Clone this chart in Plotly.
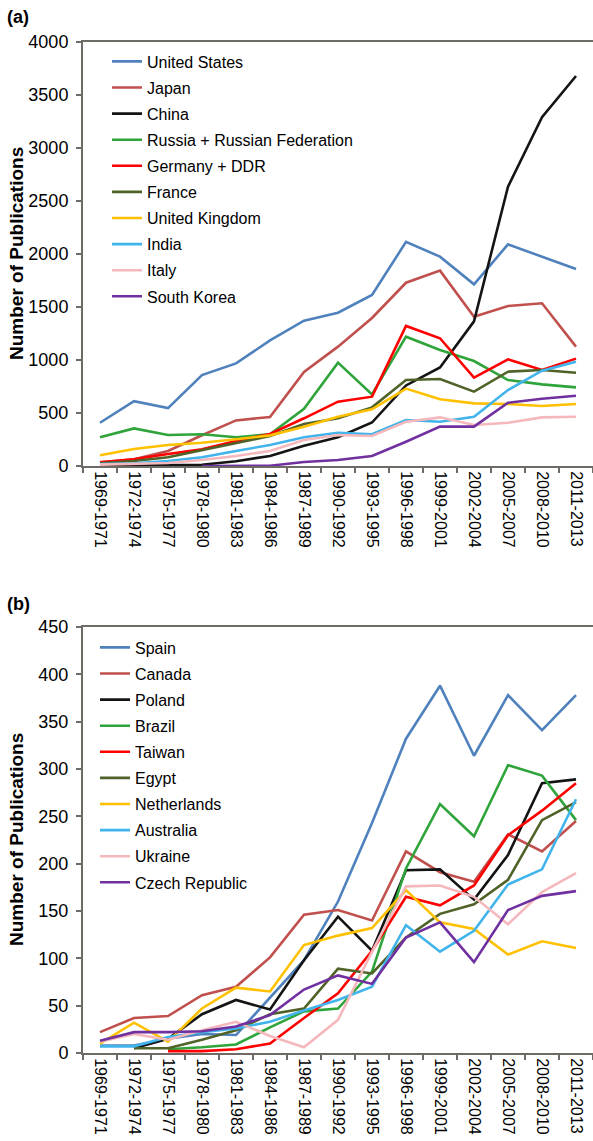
import plotly.graph_objects as go

# ---- data -------------------------------------------------------------
periods = ["1969-1971", "1972-1974", "1975-1977", "1978-1980", "1981-1983",
           "1984-1986", "1987-1989", "1990-1992", "1993-1995", "1996-1998",
           "1999-2001", "2002-2004", "2005-2007", "2008-2010", "2011-2013"]

# panel (a)
countries_a = ["United States", "Japan", "China", "Russia + Russian Federation",
               "Germany + DDR", "France", "United Kingdom", "India", "Italy",
               "South Korea"]
united_states = [408, 612, 546, 858, 968, 1185, 1371, 1446, 1613, 2114, 1975, 1714, 2091, 1978, 1858]
japan = [35, 63, 142, 290, 430, 463, 887, 1126, 1396, 1729, 1843, 1409, 1509, 1535, 1126]
china = [3, 5, 8, 12, 45, 95, 190, 272, 410, 760, 930, 1365, 2635, 3290, 3679]
russia = [271, 355, 292, 299, 271, 300, 540, 975, 676, 1220, 1094, 990, 811, 770, 742]
germany = [35, 63, 113, 157, 236, 302, 450, 607, 654, 1321, 1205, 833, 1006, 906, 1013]
france = [25, 47, 82, 151, 220, 283, 396, 450, 553, 811, 821, 701, 890, 906, 880]
united_kingdom = [101, 160, 198, 220, 252, 289, 371, 465, 535, 730, 629, 591, 585, 566, 585]
india = [19, 25, 47, 82, 142, 198, 271, 314, 299, 434, 418, 465, 717, 899, 984]
italy = [13, 19, 28, 57, 94, 142, 245, 292, 283, 418, 459, 387, 408, 459, 465]
south_korea = [None, None, None, 0, 1, 3, 38, 57, 95, 229, 371, 371, 597, 635, 663]

# panel (b)
countries_b = ["Spain", "Canada", "Poland", "Brazil", "Taiwan", "Egypt",
               "Netherlands", "Australia", "Ukraine", "Czech Republic"]
spain = [8, 8, 15, 20, 19, 59, 98, 160, 243, 332, 388, 314, 378, 341, 378]
canada = [22, 37, 39, 61, 70, 101, 146, 151, 140, 213, 191, 181, 231, 213, 245]
poland = [None, 5, 15, 41, 56, 46, 98, 144, 108, 193, 194, 162, 209, 285, 289]
brazil = [None, None, 4, 6, 9, 27, 44, 47, 86, 195, 263, 229, 304, 293, 246]
taiwan = [None, None, 2, 2, 4, 10, 37, 63, 108, 165, 156, 177, 230, 256, 285]
egypt = [None, 5, 5, 14, 24, 41, 47, 89, 84, 122, 147, 157, 183, 246, 265]
netherlands = [10, 32, 12, 47, 69, 65, 114, 124, 132, 172, 138, 131, 104, 118, 111]
australia = [7, 7, 17, 22, 26, 33, 45, 56, 70, 135, 107, 129, 178, 194, 268]
ukraine = [12, 20, 14, 24, 33, 18, 6, 35, 107, 176, 177, 165, 136, 170, 190]
czech_republic = [13, 22, 22, 23, 28, 40, 67, 82, 73, 122, 138, 96, 151, 166, 171]

series_a = [united_states, japan, china, russia, germany, france,
            united_kingdom, india, italy, south_korea]
series_b = [spain, canada, poland, brazil, taiwan, egypt,
            netherlands, australia, ukraine, czech_republic]

palette = ["#4F81BD", "#C0504D", "#141414", "#2FA43A", "#FF0000",
           "#4F6228", "#FFC000", "#41B4EC", "#F5B8BC", "#7030A0"]

# ---- geometry helpers (pixel -> paper) --------------------------------
W, H = 593, 1141
L = 83
PW = W - L


def yfrac(px):
    return 1 - px / H


def xfrac(px):
    return (px - L) / PW


FONT = "Liberation Sans, Arial, sans-serif"
AXIS_COLOR = "#6E6A66"

fig = go.Figure()

for name, vals, col in zip(countries_a, series_a, palette):
    fig.add_trace(go.Scatter(
        x=periods, y=vals, name=name, mode="lines",
        line=dict(color=col, width=2.6), xaxis="x", yaxis="y",
        legend="legend", legendgroup="a_" + name, connectgaps=False))

for name, vals, col in zip(countries_b, series_b, palette):
    fig.add_trace(go.Scatter(
        x=periods, y=vals, name=name, mode="lines",
        line=dict(color=col, width=2.6), xaxis="x2", yaxis="y2",
        legend="legend2", legendgroup="b_" + name, connectgaps=False))

xaxis_common = dict(
    type="category", categoryorder="array", categoryarray=periods,
    range=[-0.5, len(periods) - 0.5], tickson="boundaries",
    ticks="outside", ticklen=5, tickwidth=1.5, tickcolor=AXIS_COLOR,
    tickangle=90, tickfont=dict(family=FONT, size=16, color="#000"),
    showline=True, linecolor=AXIS_COLOR, linewidth=2, mirror=True,
    showgrid=False, zeroline=False, automargin=False, fixedrange=True)

yaxis_common = dict(
    ticks="outside", ticklen=5, tickwidth=1.5, tickcolor=AXIS_COLOR,
    tickfont=dict(family=FONT, size=18, color="#000"),
    showline=True, linecolor=AXIS_COLOR, linewidth=2,
    showgrid=False, zeroline=False, automargin=False, fixedrange=True,
    ticklabelstandoff=4)

legend_common = dict(
    font=dict(family=FONT, size=16, color="#000"),
    bgcolor="rgba(0,0,0,0)", borderwidth=0,
    tracegroupgap=2.3, itemclick=False, itemdoubleclick=False,
    xanchor="left", yanchor="top", orientation="v")

fig.update_layout(
    width=W, height=H,
    margin=dict(l=L, r=0, t=0, b=0),
    paper_bgcolor="white", plot_bgcolor="white",
    showlegend=True,
    xaxis=dict(xaxis_common, anchor="y", domain=[0, 1]),
    yaxis=dict(yaxis_common, anchor="x", domain=[yfrac(466), yfrac(42)],
               range=[0, 4000], dtick=500, tick0=0),
    xaxis2=dict(xaxis_common, anchor="y2", domain=[0, 1]),
    yaxis2=dict(yaxis_common, anchor="x2", domain=[yfrac(1053), yfrac(627)],
                range=[0, 450], dtick=50, tick0=0),
    legend=dict(legend_common, x=xfrac(107), y=yfrac(44.5)),
    legend2=dict(legend_common, x=xfrac(95), y=yfrac(630.5)),
)

annotations = [
    dict(text="<b>(a)</b>", x=xfrac(5), y=yfrac(5), xanchor="left", yanchor="top", size=18),
    dict(text="<b>(b)</b>", x=xfrac(5), y=yfrac(592), xanchor="left", yanchor="top", size=18),
    dict(text="<b>Number of Publications</b>", x=xfrac(16), y=yfrac(254),
         xanchor="center", yanchor="middle", textangle=-90, size=19),
    dict(text="<b>Number of Publications</b>", x=xfrac(16), y=yfrac(840),
         xanchor="center", yanchor="middle", textangle=-90, size=19),
]
for a in annotations:
    size = a.pop("size")
    a.update(xref="paper", yref="paper", showarrow=False,
             font=dict(family=FONT, size=size, color="#000"))
fig.update_layout(annotations=annotations)

fig.write_html("out.html")
